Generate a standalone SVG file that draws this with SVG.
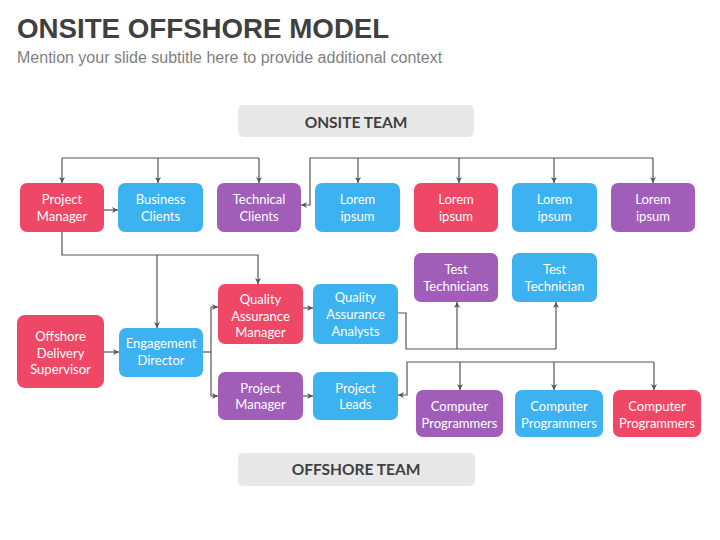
<svg xmlns="http://www.w3.org/2000/svg" width="720" height="540" viewBox="0 0 720 540">
<defs>
<marker id="ah" viewBox="0 0 10 10" refX="10" refY="5" markerWidth="6" markerHeight="6" orient="auto" markerUnits="userSpaceOnUse">
<path d="M0,0 L10,5 L0,10 L3,5 Z" fill="#555"/>
</marker>
</defs>
<style>
.red{fill:#EF4766}.blue{fill:#3CB2F0}.purple{fill:#A05EB8}
.t{font-family:Lato,"Open Sans","Liberation Sans",sans-serif;font-size:13px;fill:#fff;text-anchor:middle}
.team{fill:#E8E8E8}
.tt{font-family:Lato,"Open Sans","Liberation Sans",sans-serif;font-size:15.5px;font-weight:bold;fill:#404040;text-anchor:middle}
.ln{fill:none;stroke:#555;stroke-width:1.2}
.ar{fill:none;stroke:#555;stroke-width:1.2;marker-end:url(#ah)}
</style>
<rect width="720" height="540" fill="#fff"/>
<text x="17" y="38" font-family="Liberation Sans, Arial, sans-serif" font-size="27.7" font-weight="bold" fill="#404040">ONSITE OFFSHORE MODEL</text>
<text x="17" y="63" font-family="Liberation Sans, Arial, sans-serif" font-size="16" fill="#7F7F7F">Mention your slide subtitle here to provide additional context</text>

<g id="onsite-team"><rect class="team" x="238" y="105" width="236" height="32" rx="5"/><text class="tt" x="356" y="128">ONSITE TEAM</text></g>
<g id="offshore-team"><rect class="team" x="238" y="453" width="237" height="33" rx="5"/><text class="tt" x="356" y="475">OFFSHORE TEAM</text></g>

<g id="connectors">
<path class="ln" d="M62,158 H259"/>
<path class="ar" d="M62,158 V183"/>
<path class="ar" d="M158,158 V183"/>
<path class="ar" d="M259,158 V183"/>
<path class="ar" d="M653,158 H310 V205 H301"/>
<path class="ar" d="M358,158 V183"/>
<path class="ar" d="M459,158 V183"/>
<path class="ar" d="M554,158 V183"/>
<path class="ar" d="M653,158 V183"/>
<path class="ar" d="M104,210 H118"/>
<path class="ar" d="M62,232 V255 H258 V284"/>
<path class="ar" d="M157,255 V328"/>
<path class="ar" d="M104,352 H119"/>
<path class="ln" d="M203,352 H211"/>
<path class="ln" d="M211,307 V396"/>
<path class="ar" d="M211,307 H218"/>
<path class="ar" d="M211,396 H218"/>
<path class="ar" d="M303,308 H313"/>
<path class="ar" d="M303,396 H313"/>
<path class="ln" d="M398,313 H406 V349 H556"/>
<path class="ar" d="M457,349 V302"/>
<path class="ar" d="M556,349 V302"/>
<path class="ar" d="M654,362 H407 V395 H398"/>
<path class="ar" d="M460,362 V390"/>
<path class="ar" d="M554,362 V390"/>
<path class="ar" d="M654,362 V390"/>
</g>

<g id="project-manager"><rect class="red" x="20" y="183" width="84" height="49" rx="7"/><text class="t" x="62" y="203.5">Project</text><text class="t" x="62" y="220.5">Manager</text></g>
<g id="business-clients"><rect class="blue" x="118" y="183" width="85" height="49" rx="7"/><text class="t" x="160.5" y="203.5">Business</text><text class="t" x="160.5" y="220.5">Clients</text></g>
<g id="technical-clients"><rect class="purple" x="217" y="183" width="84" height="49" rx="7"/><text class="t" x="259" y="203.5">Technical</text><text class="t" x="259" y="220.5">Clients</text></g>
<g id="lorem-1"><rect class="blue" x="315" y="183" width="85" height="49" rx="7"/><text class="t" x="357.5" y="203.5">Lorem</text><text class="t" x="357.5" y="220.5">ipsum</text></g>
<g id="lorem-2"><rect class="red" x="414" y="183" width="84" height="49" rx="7"/><text class="t" x="456" y="203.5">Lorem</text><text class="t" x="456" y="220.5">ipsum</text></g>
<g id="lorem-3"><rect class="blue" x="512" y="183" width="85" height="49" rx="7"/><text class="t" x="554.5" y="203.5">Lorem</text><text class="t" x="554.5" y="220.5">ipsum</text></g>
<g id="lorem-4"><rect class="purple" x="611" y="183" width="84" height="49" rx="7"/><text class="t" x="653" y="203.5">Lorem</text><text class="t" x="653" y="220.5">ipsum</text></g>

<g id="test-technicians"><rect class="purple" x="414" y="253" width="84" height="49" rx="7"/><text class="t" x="456" y="273.5">Test</text><text class="t" x="456" y="290.5">Technicians</text></g>
<g id="test-technician"><rect class="blue" x="512" y="253" width="85" height="49" rx="7"/><text class="t" x="554.5" y="273.5">Test</text><text class="t" x="554.5" y="290.5">Technician</text></g>

<g id="offshore-delivery-supervisor"><rect class="red" x="17" y="315" width="87" height="73" rx="8"/><text class="t" x="60.5" y="340.5">Offshore</text><text class="t" x="60.5" y="357.5">Delivery</text><text class="t" x="60.5" y="374">Supervisor</text></g>
<g id="engagement-director"><rect class="blue" x="119" y="328" width="84" height="49" rx="7"/><text class="t" x="161" y="348">Engagement</text><text class="t" x="161" y="365">Director</text></g>
<g id="qa-manager"><rect class="red" x="218" y="284" width="85" height="60" rx="7"/><text class="t" x="260.5" y="303.5">Quality</text><text class="t" x="260.5" y="320.5">Assurance</text><text class="t" x="260.5" y="337">Manager</text></g>
<g id="qa-analysts"><rect class="blue" x="313" y="284" width="85" height="60" rx="7"/><text class="t" x="355.5" y="302">Quality</text><text class="t" x="355.5" y="319">Assurance</text><text class="t" x="355.5" y="336">Analysts</text></g>
<g id="project-manager-2"><rect class="purple" x="218" y="372" width="85" height="48" rx="7"/><text class="t" x="260.5" y="392.5">Project</text><text class="t" x="260.5" y="409">Manager</text></g>
<g id="project-leads"><rect class="blue" x="313" y="372" width="85" height="48" rx="7"/><text class="t" x="355.5" y="392.5">Project</text><text class="t" x="355.5" y="409">Leads</text></g>

<g id="computer-programmers-1"><rect class="purple" x="416" y="390" width="87" height="47" rx="7"/><text class="t" x="459.5" y="410.5">Computer</text><text class="t" x="459.5" y="427.5">Programmers</text></g>
<g id="computer-programmers-2"><rect class="blue" x="515" y="390" width="88" height="47" rx="7"/><text class="t" x="559" y="410.5">Computer</text><text class="t" x="559" y="427.5">Programmers</text></g>
<g id="computer-programmers-3"><rect class="red" x="613" y="390" width="88" height="47" rx="7"/><text class="t" x="657" y="410.5">Computer</text><text class="t" x="657" y="427.5">Programmers</text></g>
</svg>
